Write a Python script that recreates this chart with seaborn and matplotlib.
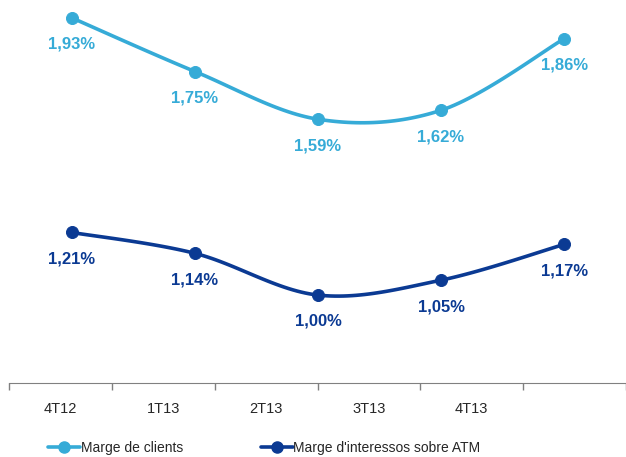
import numpy as np
import pandas as pd
import seaborn as sns
import matplotlib.pyplot as plt
from matplotlib.lines import Line2D

# chart data
quarters = ["4T12", "1T13", "2T13", "3T13", "4T13"]
marge_clients = [1.93, 1.75, 1.59, 1.62, 1.86]
marge_atm = [1.21, 1.14, 1.00, 1.05, 1.17]
series_names = ["Marge de clients", "Marge d'interessos sobre ATM"]

LIGHT = "#36ABD7"
DARK = "#0B3A93"


def smooth_path(y, steps=30):
    # Catmull-Rom curve through the points, like Excel's "smoothed line"
    x = np.arange(len(y), dtype=float)
    p = np.column_stack([x, y])
    p = np.vstack([p[0], p, p[-1]])
    out = []
    for i in range(1, len(p) - 2):
        p0, p1, p2, p3 = p[i - 1], p[i], p[i + 1], p[i + 2]
        t = np.linspace(0, 1, steps)[:, None]
        seg = 0.5 * ((2 * p1) + (-p0 + p2) * t
                     + (2 * p0 - 5 * p1 + 4 * p2 - p3) * t ** 2
                     + (-p0 + 3 * p1 - 3 * p2 + p3) * t ** 3)
        out.append(seg)
    return np.vstack(out)


sns.set_style("white")
plt.rcParams['font.family'] = ['Liberation Sans', 'DejaVu Sans']

fig = plt.figure(figsize=(6.26, 4.57), dpi=100)
ax = fig.add_axes([9 / 626, 1 - 383 / 457, 1 - 9 / 626, 383 / 457])

for vals, color in [(marge_clients, LIGHT), (marge_atm, DARK)]:
    path = smooth_path(vals)
    df = pd.DataFrame({"x": path[:, 0], "y": path[:, 1]})
    sns.lineplot(data=df, x="x", y="y", ax=ax, color=color, lw=2.6,
                 sort=False, estimator=None)
    pts = pd.DataFrame({"x": range(len(quarters)), "y": vals})
    sns.scatterplot(data=pts, x="x", y="y", ax=ax, color=color, s=75,
                    edgecolor=color, zorder=3)
    for i, v in enumerate(vals):
        ax.annotate(f"{v:.2f}%".replace(".", ","), (i, v), xytext=(0, -19),
                    textcoords="offset points", ha="center", va="center",
                    color=color, fontsize=12, fontweight="bold")

ax.set_xlim(-0.511, 4.503)
ax.set_ylim(0.705, 1.99)
ax.set_xticks([])
ax.set_yticks([])
ax.set_xlabel("")
ax.set_ylabel("")
for s in ["top", "right", "left", "bottom"]:
    ax.spines[s].set_visible(False)

# category axis (Excel draws it with its own spacing)
cat = ax.twiny()
cat.xaxis.set_ticks_position("bottom")
cat.set_xlim(0, 6)
cat.set_xticks(np.arange(0, 7), minor=False)
cat.set_xticklabels([])
cat.set_xticks(np.arange(len(quarters)) + 0.5, minor=True)
cat.set_xticklabels(quarters, minor=True, fontsize=10.5)
cat.tick_params(axis="x", which="major", length=5, color="#808080", width=1)
cat.tick_params(axis="x", which="minor", length=0, pad=14)
for s in ["top", "right", "left"]:
    cat.spines[s].set_visible(False)
cat.spines["bottom"].set_visible(True)
cat.spines["bottom"].set_color("#808080")

handles = [Line2D([], [], color=LIGHT, lw=2.6, marker="o", markersize=8),
           Line2D([], [], color=DARK, lw=2.6, marker="o", markersize=8)]
fig.legend(handles, series_names, loc="center left", bbox_to_anchor=(0.068, 0.019),
           ncol=2, frameon=False, fontsize=10, handlelength=2.3,
           handletextpad=0.05, columnspacing=5.6, borderaxespad=0)

fig.savefig("out.png", dpi=100)
